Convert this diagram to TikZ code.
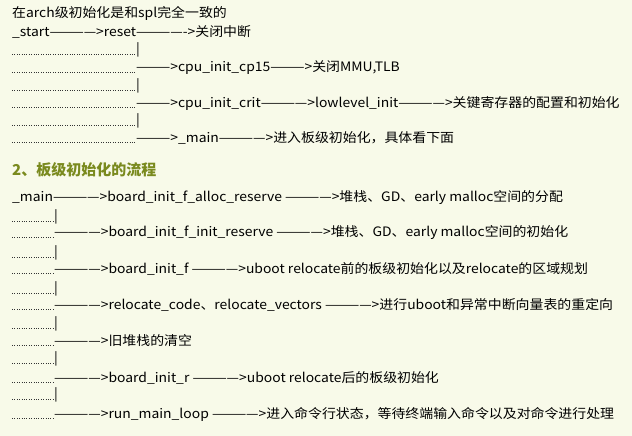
\documentclass[tikz,border=0pt]{standalone}
\usepackage{fontspec}
\setmainfont{Noto Sans CJK SC}
\definecolor{bg}{HTML}{F8FAE9}
\definecolor{head}{HTML}{7A8A1E}
\begin{document}
\begin{tikzpicture}[x=1pt,y=-1pt,
  t/.style={anchor=west,inner sep=0pt,font=\fontsize{13}{15}\selectfont,text=black,xscale=1.07,transform shape},
  hd/.style={anchor=west,inner sep=0pt,font=\fontsize{15}{17}\selectfont\bfseries,text=head},
  dl/.style={line width=0.8pt,dash pattern=on 0.8pt off 1.6pt,black!80}]
\fill[bg] (0,0) rectangle (632,436);
\useasboundingbox (0,0) rectangle (632,436);
\node[t] (a1) at (12,13) {在arch级初始化是和spl完全一致的};
\node[t] (a2) at (12,32) {\_start————>reset————->关闭中断};
\foreach \y in {50,68,86,103,121,138}{\draw[dl] (12,\y+4) -- (135,\y+4);}
\node[t] (b1) at (136,50) {|};
\node[t] (b2) at (136,68) {———>cpu\_init\_cp15———>关闭MMU,TLB};
\node[t] (b3) at (136,86) {|};
\node[t] (b4) at (136,103) {———>cpu\_init\_crit————>lowlevel\_init————>关键寄存器的配置和初始化};
\node[t] (b5) at (136,121) {|};
\node[t] (b6) at (136,138) {———>\_main————>进入板级初始化，具体看下面};
\node[hd] (h) at (12,170) {2、板级初始化的流程};
\node[t] (c0) at (12,198) {\_main————>board\_init\_f\_alloc\_reserve ————>堆栈、GD、early malloc空间的分配};
\foreach \y in {217,233,253,269,289,305,324,341,359,378,395,414}{\draw[dl] (12,\y+4) -- (53,\y+4);}
\node[t] (c1) at (54,217) {|};
\node[t] (c2) at (54,233) {————>board\_init\_f\_init\_reserve ————>堆栈、GD、early malloc空间的初始化};
\node[t] (c3) at (54,253) {|};
\node[t] (c4) at (54,269) {————>board\_init\_f ————>uboot relocate前的板级初始化以及relocate的区域规划};
\node[t] (c5) at (54,289) {|};
\node[t] (c6) at (54,305) {————>relocate\_code、relocate\_vectors ————>进行uboot和异常中断向量表的重定向};
\node[t] (c7) at (54,324) {|};
\node[t] (c8) at (54,341) {————>旧堆栈的清空};
\node[t] (c9) at (54,359) {|};
\node[t] (c10) at (54,378) {————>board\_init\_r ————>uboot relocate后的板级初始化};
\node[t] (c11) at (54,395) {|};
\node[t] (c12) at (54,414) {————>run\_main\_loop ————>进入命令行状态，等待终端输入命令以及对命令进行处理};
\end{tikzpicture}
\end{document}
